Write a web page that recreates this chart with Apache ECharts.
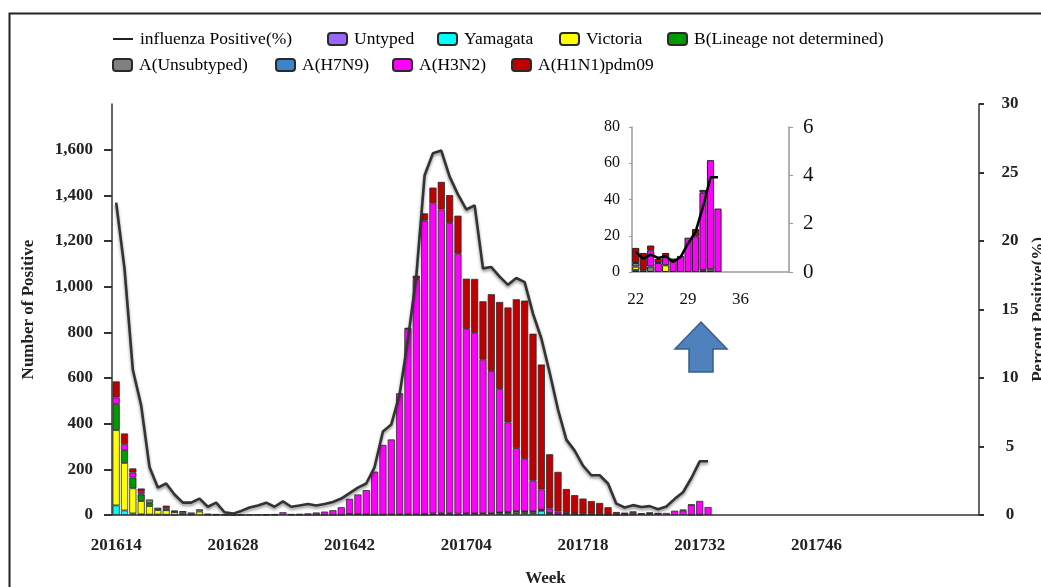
<!DOCTYPE html>
<html><head><meta charset="utf-8">
<script src="https://cdn.jsdelivr.net/npm/echarts@6/dist/echarts.min.js"></script>
<style>html,body{margin:0;padding:0;background:#fff;overflow:hidden}#c{width:1041px;height:587px}</style>
</head><body><div id="c"></div>
<script>
// ---------- categories ----------
const weeks = [
'201614','201615','201616','201617','201618','201619','201620','201621','201622','201623','201624','201625','201626',
'201627','201628','201629','201630','201631','201632','201633','201634','201635','201636','201637','201638','201639',
'201640','201641','201642','201643','201644','201645','201646','201647','201648','201649','201650','201651','201652',
'201701','201702','201703','201704','201705','201706','201707','201708','201709','201710','201711','201712','201713',
'201714','201715','201716','201717','201718','201719','201720','201721','201722','201723','201724','201725','201726',
'201727','201728','201729','201730','201731','201732','201733','201734','201735','201736','201737','201738','201739',
'201740','201741','201742','201743','201744','201745','201746','201747','201748','201749','201750','201751','201752',
'201801','201802','201803','201804','201805','201806','201807','201808','201809','201810','201811','201812','201813'];
const insetWeeks = ['22','23','24','25','26','27','28','29','30','31','32','33','34','35','36','37','38','39','40','41','42'];
const insetStart = 60; // index of 201722 in weeks

// ---------- tick labels ----------
const xTickLabels = ['201614','201628','201642','201704','201718','201732','201746'];
const leftTicks = [0,200,400,600,800,1000,1200,1400,1600];
const insetTickLabels = ['22','29','36'];

// ---------- series values (weekly counts, 201614 .. 201733) ----------
const untyped = [];
const yamagata = [42,20,7,3,2,2,1,1,0,0,0,0,0,0,0,0,0,0,0,0,0,0,0,0,0,0,0,0,4,3,2,0,0,0,0,0,0,2,3,3,3,2,0,0,0,0,6,8,8,8,8,18,6,4,3,3,2,2,0,0,1,0,0,0,0,0,0,0,0,0,0,0];
const victoria = [330,208,110,58,37,20,20,12,4,3,15,2,1,0,0,0,0,0,0,0,0,0,0,0,0,0,0,0,0,0,0,0,0,0,0,0,0,0,0,0,0,0,5,5,6,6,4,4,7,6,6,4,2,0,0,0,0,0,0,0,2,0,0,0,3.7,0,0,0,0,0,0,0];
const bLineage = [114,56,47,28,13,2,2,1,0,0,0,0,0,0,0,0,0,0,0,0,0,0,0,0,0,0,0,0,0,0,0,0,0,0,0,0,0,0,0,0,0,0,0,0,0,0,0,0,0,0,0,0,0,0,0,0,0,0,0,0,0,0,0,0,0,0,0,0,0,0,0,0];
const aUnsub = [0,0,0,5,16,8,8,6,10,8,10,3,3,2,2,1,1,1,1,1,0,1,1,1,1,1,1,1,1,1,1,2,2,3,3,3,3,3,4,5,5,4,2,2,2,2,2,2,2,2,2,2,2,2,2,1,1,1,1,1,2,1,3,0,0,0,0,0,0,1,1.5,0];
const aH7N9 = [];
const aH3N2 = [29,26,22,8,0,0,0,0,0,0,0,0,0,0,0,0,0,0,2,3,12,3,4,6,10,14,20,33,66,86,106,188,305,328,530,812,1030,1284,1358,1330,1270,1138,808,790,672,622,540,392,276,230,134,88,18,10,4,3,3,3,2,1,0,0,9,5,4.5,6.4,8.9,18.9,19.7,42.8,60.2,35];
const aH1N1 = [70,47,18,14,0,0,10,0,2,0,0,0,0,0,0,0,0,0,0,0,0,0,0,0,0,0,0,0,0,0,0,0,0,0,0,5,15,32,69,121,123,167,220,237,256,337,381,503,652,693,644,547,238,173,105,80,66,55,50,32,8.3,9.5,2.6,2.2,2.3,1,0,0,4,1.5,0,0];
const positivePct = [22.8,18.0,10.6,8.0,3.5,2.0,2.3,1.5,0.9,0.9,1.2,0.6,0.9,0.2,0.1,0.3,0.55,0.7,0.9,0.6,1.0,0.6,0.7,0.8,0.7,0.8,0.95,1.2,1.6,2.0,2.3,3.5,6.1,6.6,8.8,12.8,17.4,24.8,26.4,26.6,24.7,23.4,22.3,22.6,18.0,18.1,17.4,16.8,17.3,17.0,14.7,12.9,10.4,7.7,5.5,4.7,3.6,2.9,2.9,2.3,0.83,0.55,0.72,0.58,0.65,0.42,0.62,1.18,1.66,2.7,3.92,3.92];

// ---------- styling ----------
const SERIF = "'Liberation Serif','Times New Roman',serif";
const stackDefs = [
  ['Untyped', untyped, '#9966FF'],
  ['Yamagata', yamagata, '#00FFFF'],
  ['Victoria', victoria, '#FFFF00'],
  ['B(Lineage not determined)', bLineage, '#009900'],
  ['A(Unsubtyped)', aUnsub, '#808080'],
  ['A(H7N9)', aH7N9, '#3A86C8'],
  ['A(H3N2)', aH3N2, '#FF00FF'],
  ['A(H1N1)pdm09', aH1N1, '#C00000']
];
const clean = a => a.map(v => (v === 0 ? '-' : v));

const series = [];
stackDefs.forEach(([name, arr, color]) => {
  series.push({
    name, type: 'bar', stack: 'main', xAxisIndex: 0, yAxisIndex: 0,
    data: clean(arr), barCategoryGap: '14%',
    itemStyle: { color, borderColor: '#2a2a2a', borderWidth: 0.8 },
    emphasis: { disabled: true }
  });
});
series.push({
  name: 'influenza Positive(%)', type: 'line', xAxisIndex: 0, yAxisIndex: 1,
  data: positivePct, symbol: 'none', showSymbol: false, smooth: false,
  lineStyle: { color: '#333', width: 2.6, shadowColor: 'rgba(0,0,0,0.45)', shadowBlur: 3, shadowOffsetY: 2 },
  itemStyle: { color: '#333' }, z: 5
});
stackDefs.forEach(([name, arr, color]) => {
  series.push({
    name, type: 'bar', stack: 'inset', xAxisIndex: 2, yAxisIndex: 2,
    data: clean(arr.slice(insetStart)), barCategoryGap: '4%',
    itemStyle: { color, borderColor: '#222', borderWidth: 1 },
    emphasis: { disabled: true }
  });
});
series.push({
  name: 'influenza Positive(%)', type: 'line', xAxisIndex: 2, yAxisIndex: 3,
  data: positivePct.slice(insetStart), symbol: 'none', showSymbol: false,
  lineStyle: { color: '#000', width: 2.6 }, z: 5
});

const legendItems = [
  ['influenza Positive(%)', 113, 30],
  ['Untyped', 327, 30], ['Yamagata', 437, 30], ['Victoria', 559, 30], ['B(Lineage not determined)', 667, 30],
  ['A(Unsubtyped)', 112, 56], ['A(H7N9)', 275, 56], ['A(H3N2)', 392, 56], ['A(H1N1)pdm09', 511, 56]
];
const legends = legendItems.map(([n, x, y]) => {
  const isLine = n === 'influenza Positive(%)';
  return {
    data: [isLine ? { name: n, icon: 'rect', itemStyle: { color: '#222', borderWidth: 0 } } : n],
    left: x, top: y, padding: 0,
    itemWidth: isLine ? 20 : 19, itemHeight: isLine ? 2 : 12, itemGap: 0,
    selectedMode: false,
    textStyle: { fontFamily: SERIF, fontSize: 17.5, color: '#000', padding: [0, 0, 0, 2] }
  };
});

const axisFont = { fontFamily: SERIF, fontSize: 17, fontWeight: 'bold', color: '#222' };

const option = {
  animation: false,
  backgroundColor: '#fff',
  legend: legends,
  grid: [
    { left: 112, right: 62, top: 104, bottom: 72, outerBoundsMode: 'none', containLabel: false },
    { left: 632, right: 252, top: 127, bottom: 315, outerBoundsMode: 'none', containLabel: false }
  ],
  xAxis: [
    { type: 'category', gridIndex: 0, data: weeks, boundaryGap: true,
      axisLine: { lineStyle: { color: '#333', width: 1.5 } },
      axisTick: { interval: 0, length: 4, lineStyle: { color: '#444' } },
      axisLabel: Object.assign({ interval: (i, v) => xTickLabels.indexOf(v) >= 0, margin: 22 }, axisFont),
      name: 'Week', nameLocation: 'middle', nameGap: 55,
      nameTextStyle: { fontFamily: SERIF, fontSize: 17, fontWeight: 'bold', color: '#222' } },
    { type: 'category', gridIndex: 0, data: weeks, boundaryGap: true, position: 'bottom',
      axisLine: { show: false },
      axisTick: { interval: 6, length: 7, lineStyle: { color: '#333', width: 2 } },
      axisLabel: { show: false } },
    { type: 'category', gridIndex: 1, data: insetWeeks, boundaryGap: true,
      axisLine: { lineStyle: { color: '#999', width: 1.5 } },
      axisTick: { interval: 0, length: 4, lineStyle: { color: '#999' } },
      axisLabel: { interval: (i, v) => insetTickLabels.indexOf(v) >= 0, margin: 19, fontFamily: SERIF, fontSize: 17, color: '#111' } }
  ],
  yAxis: [
    { type: 'value', gridIndex: 0, min: 0, max: 1800, interval: 200,
      axisLine: { show: true, lineStyle: { color: '#333', width: 1.5 } },
      axisTick: { show: true, length: 8, customValues: leftTicks, lineStyle: { color: '#333', width: 2 } },
      axisLabel: Object.assign({ margin: 19, customValues: leftTicks,
        formatter: v => (v > 1600 ? '' : v.toLocaleString('en-US')) }, axisFont),
      splitLine: { show: false },
      name: 'Number of Positive', nameLocation: 'middle', nameGap: 75,
      nameTextStyle: { fontFamily: SERIF, fontSize: 17, fontWeight: 'bold', color: '#222' } },
    { type: 'value', gridIndex: 0, position: 'right', min: 0, max: 30, interval: 5,
      axisLine: { show: true, lineStyle: { color: '#333', width: 1.5 } },
      axisTick: { show: true, length: 5, lineStyle: { color: '#333', width: 2 } },
      axisLabel: Object.assign({ margin: 31, align: 'center' }, axisFont),
      splitLine: { show: false },
      name: 'Percent Positive(%)', nameLocation: 'middle', nameGap: 51, nameRotate: 90,
      nameTextStyle: { fontFamily: SERIF, fontSize: 17, fontWeight: 'bold', color: '#222' } },
    { type: 'value', gridIndex: 1, min: 0, max: 80, interval: 20,
      axisLine: { show: true, lineStyle: { color: '#999', width: 1.5 } },
      axisTick: { show: true, length: 3, lineStyle: { color: '#999' } },
      axisLabel: { margin: 12, fontFamily: SERIF, fontSize: 16, color: '#111' },
      splitLine: { show: false } },
    { type: 'value', gridIndex: 1, position: 'right', min: 0, max: 6, interval: 2,
      axisLine: { show: true, lineStyle: { color: '#999', width: 1.5 } },
      axisTick: { show: true, length: 4, lineStyle: { color: '#999' } },
      axisLabel: { margin: 14, fontFamily: SERIF, fontSize: 21, color: '#111' },
      splitLine: { show: false } }
  ],
  graphic: [
    { type: 'rect', left: 7, top: 11, z: -1, silent: true,
      shape: { width: 1100, height: 700 },
      style: { fill: 'none', stroke: '#222', lineWidth: 2 } },
    { type: 'polygon', silent: true, z: 10,
      shape: { points: [[701,322],[727,349],[713,349],[713,372],[689,372],[689,349],[675,349]] },
      style: { fill: '#4F81BD', stroke: '#385D8A', lineWidth: 1.5 } }
  ],
  series
};
const chart = echarts.init(document.getElementById('c'), null, { renderer: 'canvas' });
chart.setOption(option);
</script></body></html>
